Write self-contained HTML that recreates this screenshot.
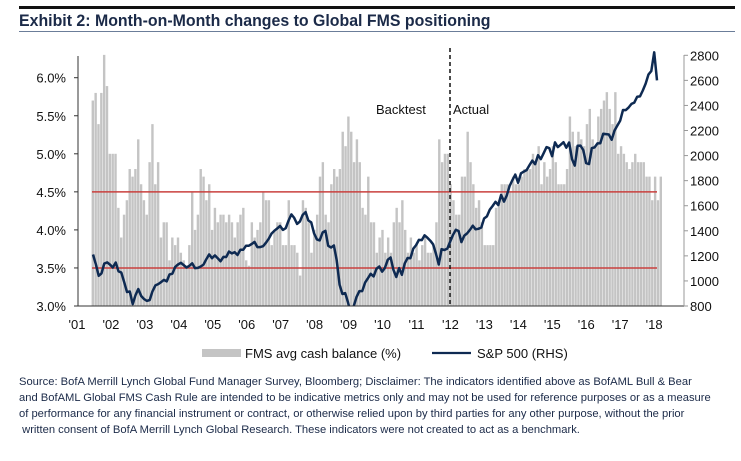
<!DOCTYPE html>
<html><head><meta charset="utf-8"><style>
body{margin:0;background:#fff;width:741px;height:461px;overflow:hidden;font-family:"Liberation Sans",sans-serif;}
#top-rule{position:absolute;left:19px;top:6px;width:716px;height:3px;background:#111;}
#title{position:absolute;left:19px;top:11px;font-family:"Liberation Sans",sans-serif;font-weight:bold;font-size:17px;color:#1b2a48;white-space:nowrap;transform:scaleX(0.935);transform-origin:left top;}
#title-rule{position:absolute;left:19px;top:31px;width:716px;height:1px;background:#6b7d99;}
#source{position:absolute;left:19px;top:374px;width:720px;font-size:11.2px;line-height:16px;color:#1b2a48;}
svg{position:absolute;left:0;top:0;}
</style></head><body>
<div id="top-rule"></div>
<div id="title">Exhibit 2: Month-on-Month changes to Global FMS positioning</div>
<div id="title-rule"></div>
<svg id="chart" width="741" height="461"></svg>
<div id="source">Source: BofA Merrill Lynch Global Fund Manager Survey, Bloomberg; Disclaimer: The indicators identified above as BofAML Bull &amp; Bear<br>and BofAML Global FMS Cash Rule are intended to be indicative metrics only and may not be used for reference purposes or as a measure<br>of performance for any financial instrument or contract, or otherwise relied upon by third parties for any other purpose, without the prior<br>&nbsp;written consent of BofA Merrill Lynch Global Research. These indicators were not created to act as a benchmark.</div>
<script>
const cashValues=[5.70,5.80,5.39,5.80,6.30,5.89,5.00,5.00,5.00,4.29,3.90,4.20,4.39,4.80,4.70,4.80,5.19,4.60,4.39,4.20,4.89,5.39,4.60,4.89,3.90,4.10,4.10,3.60,3.90,3.80,3.90,3.70,3.60,3.53,3.80,4.50,4.00,4.20,4.80,4.70,4.39,4.60,4.00,4.29,4.10,4.20,4.20,4.10,4.20,4.10,3.90,4.10,4.20,4.29,3.60,3.53,4.10,3.90,4.00,4.10,4.50,4.39,4.39,3.80,4.00,4.10,4.10,3.80,3.80,4.39,3.80,3.80,3.70,3.40,4.39,4.29,4.10,3.70,4.00,4.20,4.70,4.89,4.20,4.10,4.60,4.80,4.70,4.80,5.29,5.10,5.49,5.29,4.89,5.19,4.89,4.29,4.20,4.70,
4.10,4.10,3.70,3.90,4.00,3.70,3.90,3.70,4.10,4.29,4.10,4.39,4.00,3.70,3.90,3.70,3.80,3.60,3.80,3.90,3.70,3.70,3.80,4.10,5.19,4.89,5.00,5.00,4.60,4.39,4.20,4.20,4.70,4.70,5.29,4.89,4.60,4.29,4.39,4.10,3.80,3.80,3.80,3.80,4.29,4.39,4.60,4.60,4.60,4.50,4.70,4.60,4.60,4.70,4.80,4.80,4.80,5.00,4.89,5.10,4.60,4.89,4.70,4.80,5.10,4.89,4.60,4.60,4.60,4.80,5.49,5.29,5.10,5.29,5.19,5.10,5.39,5.59,5.19,5.10,5.49,5.59,5.70,5.81,5.59,5.39,5.81,5.00,5.10,5.00,4.89,4.80,4.89,5.00,4.89,4.89,4.89,4.70,4.70,4.39,4.70,4.39,4.70];
const spxValues=[1211,1134,1041,1060,1139,1148,
1130,1107,1147,1077,1067,990,912,916,815,886,936,880,
856,841,848,917,964,975,990,1008,996,1051,1058,1112,
1131,1145,1126,1107,1121,1141,1102,1104,1115,1130,1174,1212,
1181,1204,1181,1157,1192,1191,1234,1220,1229,1207,1249,1248,
1280,1281,1295,1311,1270,1270,1277,1304,1336,1378,1401,1418,
1438,1407,1421,1482,1531,1503,1455,1474,1527,1549,1481,1468,
1379,1331,1323,1386,1400,1280,1267,1283,1165,969,896,903,
826,735,798,873,919,919,987,1021,1057,1036,1096,1115,
1074,1104,1169,1187,1089,1031,1102,1049,1141,1183,1181,1258,
1286,1327,1326,1364,1345,1321,1292,1219,1131,1253,1247,1258,
1312,1366,1408,1398,1310,1362,1379,1407,1441,1412,1416,1426,
1498,1515,1569,1598,1631,1606,1686,1633,1682,1757,1806,1848,
1783,1859,1872,1884,1924,1960,1931,2003,1972,2018,2068,2059,
1995,2105,2068,2086,2107,2063,2104,1972,1920,2079,2080,2044,
1940,1932,2060,2065,2097,2099,2174,2171,2168,2126,2199,2239,
2279,2364,2363,2384,2412,2423,2470,2472,2519,2575,2648,2674,
2824,2600];
const leftTicks=["3.0%","3.5%","4.0%","4.5%","5.0%","5.5%","6.0%"];
const leftTickValues=[3.0,3.5,4.0,4.5,5.0,5.5,6.0];
const rightTickValues=[800,1000,1200,1400,1600,1800,2000,2200,2400,2600,2800];
const yearLabels=["'01","'02","'03","'04","'05","'06","'07","'08","'09","'10","'11","'12","'13","'14","'15","'16","'17","'18"];
const thresholds=[3.5,4.5];

const NS="http://www.w3.org/2000/svg";
const svg=document.getElementById('chart');
const X0=78,X1=684,YB=306;
const yL=v=>YB-(v-3)*76.1;
const yR=v=>YB-(v-800)*0.12535;
const barX0=93,barX1=661;
const bx=i=>barX0+i*(barX1-barX0)/(cashValues.length-1);
const lx=i=>barX0+i*(657-barX0)/(spxValues.length-1);
const yearX=i=>77+i*33.95;
function mk(t,a){const e=document.createElementNS(NS,t);for(const k in a)e.setAttribute(k,a[k]);svg.appendChild(e);return e;}

const defs=mk('defs',{});
const cp=document.createElementNS(NS,'clipPath');cp.setAttribute('id','plotclip');
const cr=document.createElementNS(NS,'rect');cr.setAttribute('x',X0);cr.setAttribute('y',40);cr.setAttribute('width',X1-X0);cr.setAttribute('height',YB-40);
cp.appendChild(cr);defs.appendChild(cp);

cashValues.forEach((v,i)=>{
  const r=mk('rect',{x:(bx(i)-1.4).toFixed(2),y:yL(v).toFixed(2),width:2.4,height:(YB-yL(v)).toFixed(2),fill:'#c4c4c4'});
  
  
});
thresholds.forEach(t=>{
  const l=mk('line',{x1:92,x2:657,y1:yL(t),y2:yL(t),stroke:'#c9403e','stroke-width':1.5});
  
  
});
const divX=450;
const dv=mk('line',{x1:divX,x2:divX,y1:48,y2:YB,stroke:'#111','stroke-width':1.5,'stroke-dasharray':'4,3'});


let d='';
spxValues.forEach((v,i)=>{d+=(i?'L':'M')+lx(i).toFixed(1)+','+yR(v).toFixed(1);});
const p=mk('path',{d:d,fill:'none',stroke:'#0e2a52','stroke-width':2.5,'stroke-linejoin':'round','clip-path':'url(#plotclip)'});



const t1=mk('text',{x:376,y:114,'font-size':13,fill:'#111'});t1.textContent='Backtest';


const t2=mk('text',{x:453,y:114,'font-size':13,fill:'#111'});t2.textContent='Actual';



const la=mk('line',{x1:X0,x2:X0,y1:56,y2:YB,stroke:'#333','stroke-width':1});


const ba=mk('line',{x1:X0,x2:X1,y1:YB,y2:YB,stroke:'#333','stroke-width':1});


const ra=mk('line',{x1:X1,x2:X1,y1:55,y2:YB,stroke:'#999','stroke-width':1});


leftTickValues.forEach((v,i)=>{
  mk('line',{x1:X0-4,x2:X0,y1:yL(v),y2:yL(v),stroke:'#333'});
  const t=mk('text',{x:66,y:yL(v)+5,'font-size':13,'text-anchor':'end',fill:'#111'});t.textContent=leftTicks[i];
  
  
});
rightTickValues.forEach(v=>{
  mk('line',{x1:X1,x2:X1+4,y1:yR(v),y2:yR(v),stroke:'#999'});
  const t=mk('text',{x:690,y:yR(v)+5,'font-size':13,fill:'#111'});t.textContent=v;
  
  
});
yearLabels.forEach((s,i)=>{
  const t=mk('text',{x:yearX(i),y:329,'font-size':13,'text-anchor':'middle',fill:'#111'});t.textContent=s;
  
  
});
const lg1=mk('rect',{x:202,y:349,width:39,height:8,fill:'#c4c4c4'});


const lt1=mk('text',{x:245,y:358,'font-size':13,fill:'#111'});lt1.textContent='FMS avg cash balance (%)';


const lg2=mk('line',{x1:432,x2:471,y1:353,y2:353,stroke:'#0e2a52','stroke-width':2.3});


const lt2=mk('text',{x:477,y:358,'font-size':13,fill:'#111'});lt2.textContent='S&P 500 (RHS)';


</script>
</body></html>
